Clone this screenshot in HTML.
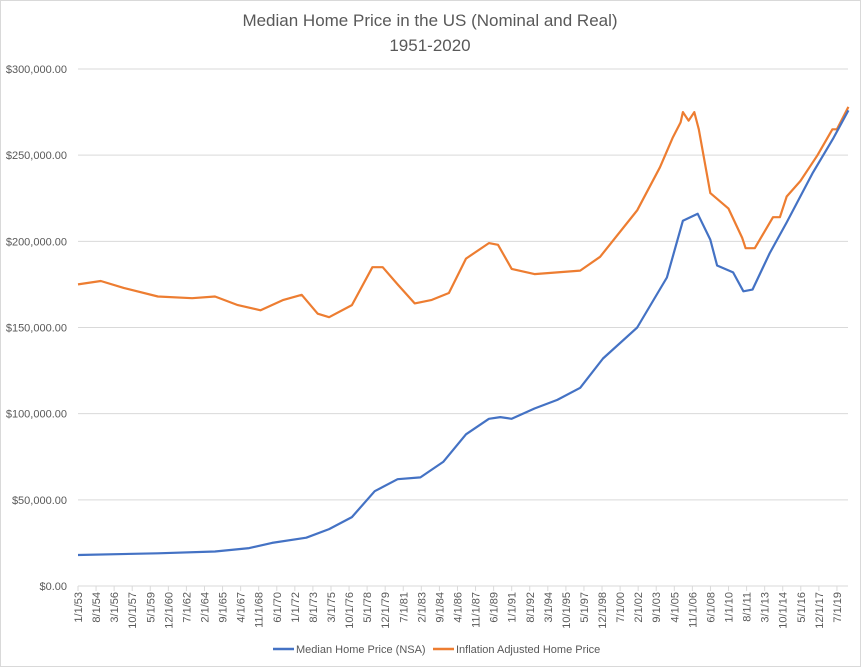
<!DOCTYPE html>
<html><head><meta charset="utf-8"><style>
body{margin:0;background:#fff;}
svg{display:block;font-family:"Liberation Sans",sans-serif;}
</style></head><body>
<svg id="chart" width="861" height="667">
<rect x="0.5" y="0.5" width="860" height="666" fill="#fff" stroke="#d9d9d9"/>
<text x="430" y="26" text-anchor="middle" font-size="17" fill="#595959">Median Home Price in the US (Nominal and Real)</text>
<text x="430" y="51" text-anchor="middle" font-size="17" fill="#595959">1951-2020</text>
<g id="grid"></g><g id="xaxis"></g><g id="series"></g>
<g>
<line x1="273" y1="649" x2="294" y2="649" stroke="#4472c4" stroke-width="2.5"/>
<text x="296" y="653" font-size="11" fill="#595959">Median Home Price (NSA)</text>
<line x1="433" y1="649" x2="454" y2="649" stroke="#ed7d31" stroke-width="2.5"/>
<text x="456" y="653" font-size="11" fill="#595959">Inflation Adjusted Home Price</text>
</g>
</svg>
<script>
const yTicks=[0,50000,100000,150000,200000,250000,300000];
const yTickLabels=["$0.00","$50,000.00","$100,000.00","$150,000.00","$200,000.00","$250,000.00","$300,000.00"];
const xTickLabels=["1/1/53","8/1/54","3/1/56","10/1/57","5/1/59","12/1/60","7/1/62","2/1/64","9/1/65","4/1/67","11/1/68","6/1/70","1/1/72","8/1/73","3/1/75","10/1/76","5/1/78","12/1/79","7/1/81","2/1/83","9/1/84","4/1/86","11/1/87","6/1/89","1/1/91","8/1/92","3/1/94","10/1/95","5/1/97","12/1/98","7/1/00","2/1/02","9/1/03","4/1/05","11/1/06","6/1/08","1/1/10","8/1/11","3/1/13","10/1/14","5/1/16","12/1/17","7/1/19"];
const nomYears=[1953,1960,1965,1968,1970,1973,1975,1977,1979,1981,1983,1985,1987,1989,1990,1991,1993,1995,1997,1999,2002.0,2004.6,2006.0,2007.3,2008.4,2009.0,2010.4,2011.3,2012.1,2013.6,2015.1,2017.4,2019.2,2020.5];
const nomValues=[18000,19000,20000,22000,25000,28000,33000,40000,55000,62000,63000,72000,88000,97000,98000,97000,103000,108000,115000,132000,150000,179000,212000,216000,201000,186000,182000,171000,172000,193000,211000,240000,260000,276000];
const realYears=[1953,1955,1957,1960,1963,1965,1967,1969,1971,1972.6,1974,1975,1977,1978.8,1979.7,1981,1982.5,1984,1985.5,1987,1989,1989.8,1991,1993,1995,1997,1998.75,2002.0,2004.0,2005.1,2005.8,2006.0,2006.5,2007.0,2007.4,2008.4,2010.0,2011.2,2011.5,2012.3,2013.9,2014.5,2015.1,2016.3,2017.8,2019.1,2019.5,2020.5];
const realValues=[175000,177000,173000,168000,167000,168000,163000,160000,166000,169000,158000,156000,163000,185000,185000,175000,164000,166000,170000,190000,199000,198000,184000,181000,182000,183000,191000,218000,243000,260000,269000,275000,270000,275000,265000,228000,219000,202000,196000,196000,214000,214000,226000,235000,250000,265000,265000,278000];
const X0=78,PX_PER_MONTH=18.07/19,Y0=586,Y1=69,XR=848;
const xs=y=>X0+(y-1953)*12*PX_PER_MONTH;
const ys=v=>Y0-(v/300000)*(Y0-Y1);
const NS="http://www.w3.org/2000/svg";
function mk(t,a,p){const e=document.createElementNS(NS,t);for(const k in a)e.setAttribute(k,a[k]);p.appendChild(e);return e;}
const grid=document.getElementById('grid');
yTicks.forEach((v,i)=>{
 const l=mk('line',{x1:X0,x2:XR,y1:ys(v),y2:ys(v),stroke:'#d9d9d9','stroke-width':1},grid);
 
 
 const t=mk('text',{x:67,y:ys(v)+4,'text-anchor':'end','font-size':11,fill:'#595959'},grid);
 t.textContent=yTickLabels[i];
 
 
});
const xa=document.getElementById('xaxis');
xTickLabels.forEach((s,i)=>{
 const x=X0+i*18.07;
 const tk=mk('line',{x1:x,x2:x,y1:Y0,y2:Y0+5,stroke:'#d9d9d9'},xa);
 
 
 const t=mk('text',{x:0,y:0,'text-anchor':'end','font-size':11,fill:'#595959',transform:`translate(${x+4},592) rotate(-90)`},xa);
 t.textContent=s;
 
 
});
const se=document.getElementById('series');
function line(years,vals,color,name){
 const d=years.map((y,i)=>(i?'L':'M')+xs(y).toFixed(1)+','+ys(vals[i]).toFixed(1)).join('');
 const p=mk('path',{d:d,fill:'none',stroke:color,'stroke-width':2.2,'stroke-linejoin':'round'},se);
 
 
}
line(realYears,realValues,'#ed7d31','real-price-line');
line(nomYears,nomValues,'#4472c4','nominal-price-line');
</script>
</body></html>
